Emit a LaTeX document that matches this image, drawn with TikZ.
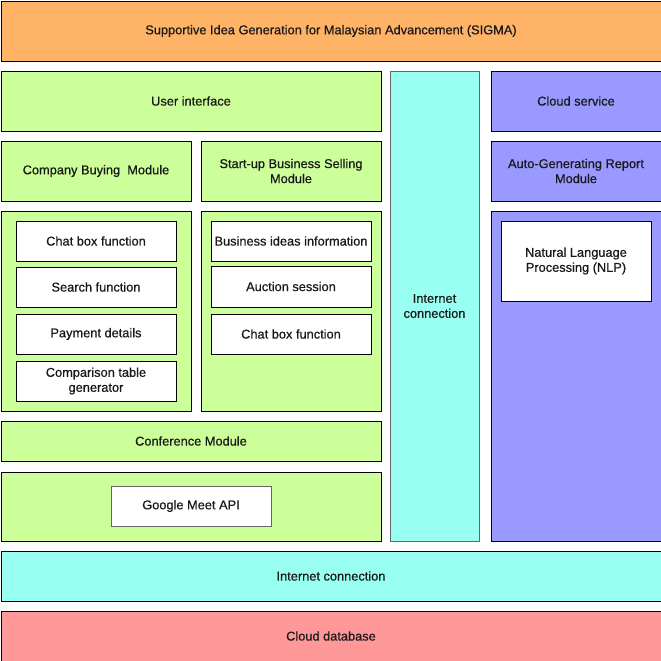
\documentclass[tikz,border=0pt]{standalone}
\usepackage{fontspec}
\setmainfont{Liberation Sans}
\newfontfamily\diafont{Liberation Sans}[FakeBold=0.6]
\usepackage{tikz}
\usetikzlibrary{positioning}

\definecolor{sigmaorange}{HTML}{FFB366}
\definecolor{modgreen}{HTML}{CCFF99}
\definecolor{netcyan}{HTML}{99FFF2}
\definecolor{cloudblue}{HTML}{9999FF}
\definecolor{dbred}{HTML}{FF9999}

\begin{document}
\begin{tikzpicture}[x=0.75pt, y=-0.75pt,
	blk/.style = {draw, line width=0.75pt, anchor=north west, inner sep=0pt,
		align=center, text=black!90, font=\diafont\fontsize{9.6}{11.25}\selectfont},
	fn/.style = {blk, fill=white, minimum width=120pt, minimum height=30pt}]
\useasboundingbox (0, 0) rectangle (661, 661);

% top banner
\node[blk, fill=sigmaorange, minimum width=495pt, minimum height=45pt] (sigma) at (0.5, 0.5)
	{Supportive Idea Generation for Malaysian Advancement (SIGMA)};

% left column
\node[blk, fill=modgreen, minimum width=285pt, minimum height=45pt] (ui) at (0.5, 70.5) {User interface};
\node[blk, fill=modgreen, minimum width=142.5pt, minimum height=45pt] (buying) at (0.5, 140.5) {Company Buying~ Module};
\node[blk, fill=modgreen, minimum width=135pt, minimum height=45pt] (selling) at (200.5, 140.5) {Start-up Business Selling\\Module};

\node[blk, fill=modgreen, minimum width=142.5pt, minimum height=150pt] (buybox) at (0.5, 210.5) {};
\node[fn] (chatA) at (15.5, 220.5) {Chat box function};
\node[fn] (search) at (15.5, 266.5) {Search function};
\node[fn] (payment) at (15.5, 313.5) {Payment details};
\node[fn] (compare) at (15.5, 360.5) {Comparison table\\generator};

\node[blk, fill=modgreen, minimum width=135pt, minimum height=150pt] (sellbox) at (200.5, 210.5) {};
\node[fn] (ideas) at (210.5, 220.5) {Business ideas information};
\node[fn, minimum height=30.75pt] (auction) at (210.5, 265.5) {Auction session};
\node[fn] (chatB) at (210.5, 313.5) {Chat box function};

\node[blk, fill=modgreen, minimum width=285pt, minimum height=30pt] (conf) at (0.5, 420.5) {Conference Module};
\node[blk, fill=modgreen, minimum width=285pt, minimum height=51.75pt] (confbox) at (0.5, 471.5) {};
\node[fn, draw=black!60] (meet) at (110.5, 485.5) {Google Meet API};

% internet column
\node[blk, draw=black!60, fill=netcyan, minimum width=66.75pt, minimum height=352.5pt] (netV) at (389.5, 70.5)
	{Internet\\connection};

% cloud column
\node[blk, fill=cloudblue, minimum width=127.5pt, minimum height=45pt] (cloud) at (490.5, 70.5) {Cloud service};
\node[blk, fill=cloudblue, minimum width=127.5pt, minimum height=45pt] (report) at (490.5, 140.5) {Auto-Generating Report\\Module};
\node[blk, fill=cloudblue, minimum width=127.5pt, minimum height=247.5pt] (reportbox) at (490.5, 210.5) {};
\node[blk, fill=white, minimum width=112.5pt, minimum height=60pt] (nlp) at (500.5, 220.5)
	{Natural Language\\Processing (NLP)};

% bottom layers
\node[blk, fill=netcyan, minimum width=495pt, minimum height=37.5pt] (netH) at (0.5, 550.5) {Internet connection};
\node[blk, fill=dbred, minimum width=495pt, minimum height=37.5pt] (db) at (0.5, 610.5) {Cloud database};
\end{tikzpicture}
\end{document}
